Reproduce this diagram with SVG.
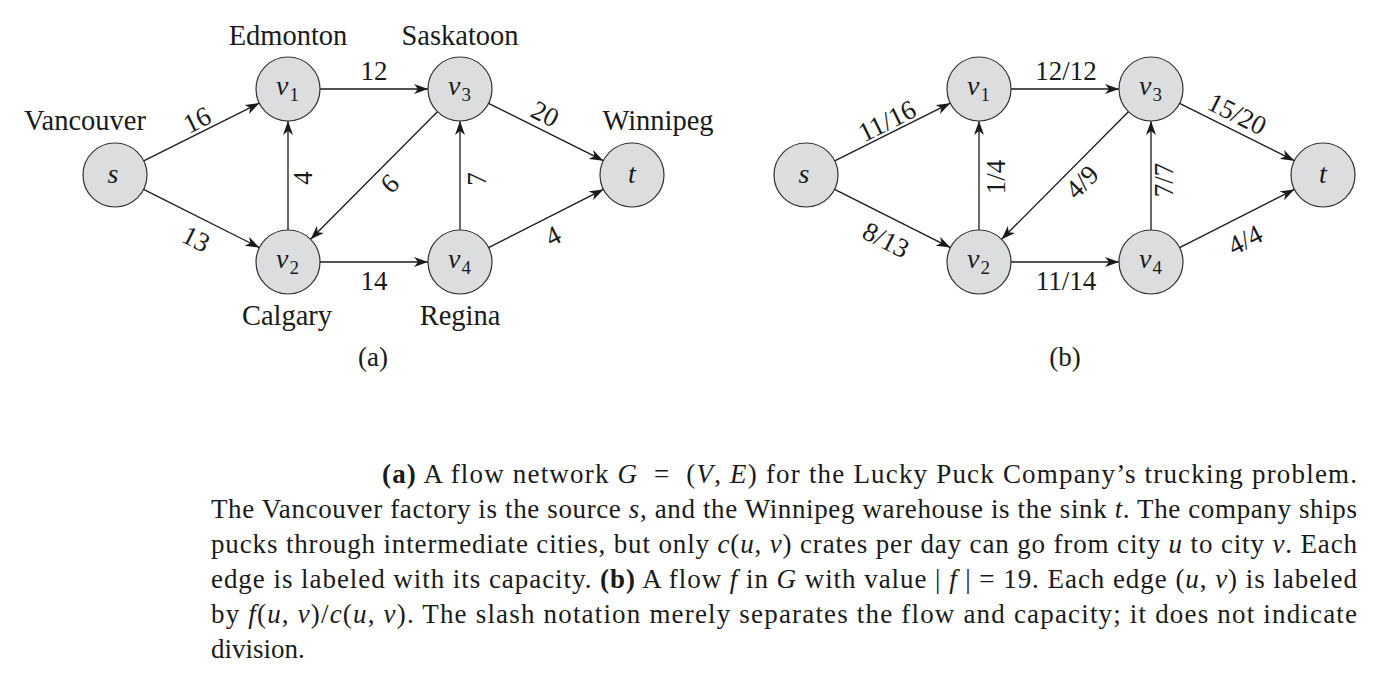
<svg xmlns="http://www.w3.org/2000/svg" width="1389" height="686" viewBox="0 0 1389 686">
<style>
text { font-family: "Liberation Serif", "Times New Roman", serif; fill: #1a1a1a; }
.node circle { fill: #dcdddf; stroke: #333; stroke-width: 1.2; }
.nv { font-size: 28px; font-style: italic; }
.sub { font-size: 19px; font-style: normal; }
.ctr { text-anchor: middle; }
.city { font-size: 28.5px; text-anchor: middle; }
.lbl { font-size: 27px; text-anchor: middle; }
.edge { stroke: #1a1a1a; stroke-width: 1.3; fill: none; marker-end: url(#arr); }
.cap { font-size: 27px; }
.i { font-style: italic; }
.b { font-weight: bold; }
</style>
<defs>
<marker id="arr" viewBox="0 0 14 10" refX="14" refY="5" markerWidth="14" markerHeight="10" markerUnits="userSpaceOnUse" orient="auto">
<path d="M0,0 L14,5 L0,10 L4,5 Z" fill="#1a1a1a"/>
</marker>
</defs>

<g id="connectors">
<!-- (a) -->
<line class="edge" x1="143.7" y1="160.8" x2="259.3" y2="103.2"/>
<line class="edge" x1="143.6" y1="189.4" x2="259.4" y2="247.6"/>
<line class="edge" x1="320" y1="89" x2="428" y2="89"/>
<line class="edge" x1="288" y1="230" x2="288" y2="121"/>
<line class="edge" x1="437.4" y1="111.7" x2="310.6" y2="239.3"/>
<line class="edge" x1="320" y1="262" x2="428" y2="262"/>
<line class="edge" x1="460" y1="230" x2="460" y2="121"/>
<line class="edge" x1="488.6" y1="103.3" x2="603.4" y2="160.7"/>
<line class="edge" x1="488.6" y1="247.6" x2="603.4" y2="189.4"/>
<!-- (b) -->
<g transform="translate(691,0)">
<line class="edge" x1="143.7" y1="160.8" x2="259.3" y2="103.2"/>
<line class="edge" x1="143.6" y1="189.4" x2="259.4" y2="247.6"/>
<line class="edge" x1="320" y1="89" x2="428" y2="89"/>
<line class="edge" x1="288" y1="230" x2="288" y2="121"/>
<line class="edge" x1="437.4" y1="111.7" x2="310.6" y2="239.3"/>
<line class="edge" x1="320" y1="262" x2="428" y2="262"/>
<line class="edge" x1="460" y1="230" x2="460" y2="121"/>
<line class="edge" x1="488.6" y1="103.3" x2="603.4" y2="160.7"/>
<line class="edge" x1="488.6" y1="247.6" x2="603.4" y2="189.4"/>
</g>
</g>

<g id="edge-labels-a">
<text class="lbl" transform="translate(197,120) rotate(-26.4)" y="9">16</text>
<text class="lbl" transform="translate(196,239) rotate(26.7)" y="9">13</text>
<text class="lbl" x="374" y="80">12</text>
<text class="lbl" x="374" y="290">14</text>
<text class="lbl" transform="translate(303,178) rotate(-90)" y="9">4</text>
<text class="lbl" transform="translate(390,184) rotate(135)" y="9">9</text>
<text class="lbl" transform="translate(477,179) rotate(-90)" y="9">7</text>
<text class="lbl" transform="translate(545,114) rotate(26.6)" y="9">20</text>
<text class="lbl" transform="translate(553,236) rotate(-26.9)" y="9">4</text>
</g>

<g id="edge-labels-b">
<text class="lbl" transform="translate(887,121) rotate(-26.4)" y="9">11/16</text>
<text class="lbl" transform="translate(886,240) rotate(26.7)" y="9">8/13</text>
<text class="lbl" x="1066" y="80">12/12</text>
<text class="lbl" x="1066" y="290">11/14</text>
<text class="lbl" transform="translate(996,177) rotate(-90)" y="9">1/4</text>
<text class="lbl" transform="translate(1082,182) rotate(-45)" y="9">4/9</text>
<text class="lbl" transform="translate(1164,180) rotate(-90)" y="9">7/7</text>
<text class="lbl" transform="translate(1237,114) rotate(26.6)" y="9">15/20</text>
<text class="lbl" transform="translate(1245,240) rotate(-26.9)" y="9">4/4</text>
</g>

<!-- nodes (a) -->
<g id="a-s" class="node"><circle cx="115" cy="175" r="32"/><text class="nv ctr" x="113" y="183">s</text></g>
<g id="a-v1" class="node"><circle cx="288" cy="89" r="32"/><text class="nv" x="276" y="95">v<tspan class="sub" dx="1" dy="6">1</tspan></text></g>
<g id="a-v2" class="node"><circle cx="288" cy="262" r="32"/><text class="nv" x="276" y="268">v<tspan class="sub" dx="1" dy="6">2</tspan></text></g>
<g id="a-v3" class="node"><circle cx="460" cy="89" r="32"/><text class="nv" x="448" y="95">v<tspan class="sub" dx="1" dy="6">3</tspan></text></g>
<g id="a-v4" class="node"><circle cx="460" cy="262" r="32"/><text class="nv" x="448" y="268">v<tspan class="sub" dx="1" dy="6">4</tspan></text></g>
<g id="a-t" class="node"><circle cx="632" cy="175" r="32"/><text class="nv ctr" x="632" y="183">t</text></g>

<!-- nodes (b) -->
<g id="b-s" class="node"><circle cx="806" cy="175" r="32"/><text class="nv ctr" x="804" y="183">s</text></g>
<g id="b-v1" class="node"><circle cx="979" cy="89" r="32"/><text class="nv" x="967" y="95">v<tspan class="sub" dx="1" dy="6">1</tspan></text></g>
<g id="b-v2" class="node"><circle cx="979" cy="262" r="32"/><text class="nv" x="967" y="268">v<tspan class="sub" dx="1" dy="6">2</tspan></text></g>
<g id="b-v3" class="node"><circle cx="1151" cy="89" r="32"/><text class="nv" x="1139" y="95">v<tspan class="sub" dx="1" dy="6">3</tspan></text></g>
<g id="b-v4" class="node"><circle cx="1151" cy="262" r="32"/><text class="nv" x="1139" y="268">v<tspan class="sub" dx="1" dy="6">4</tspan></text></g>
<g id="b-t" class="node"><circle cx="1323" cy="175" r="32"/><text class="nv ctr" x="1323" y="183">t</text></g>

<g id="city-labels">
<text class="city" x="288" y="45">Edmonton</text>
<text class="city" x="460" y="45">Saskatoon</text>
<text class="city" x="85" y="130">Vancouver</text>
<text class="city" x="658" y="130">Winnipeg</text>
<text class="city" x="287" y="325">Calgary</text>
<text class="city" x="460" y="325">Regina</text>
</g>

<g id="subfig-labels">
<text class="lbl" x="373" y="366">(a)</text>
<text class="lbl" x="1065" y="366">(b)</text>
</g>

<g id="caption" class="cap">
<text class="cap" x="382" y="483" textLength="975" lengthAdjust="spacing"><tspan class="b">(a)</tspan> A flow network <tspan class="i">G</tspan>&#160; =&#160; (<tspan class="i">V</tspan>, <tspan class="i">E</tspan>) for the Lucky Puck Company’s trucking problem.</text>
<text class="cap" x="211" y="518" textLength="1146" lengthAdjust="spacing">The Vancouver factory is the source <tspan class="i">s</tspan>, and the Winnipeg warehouse is the sink <tspan class="i">t</tspan>. The company ships</text>
<text class="cap" x="211" y="553" textLength="1146" lengthAdjust="spacing">pucks through intermediate cities, but only <tspan class="i">c</tspan>(<tspan class="i">u</tspan>, <tspan class="i">v</tspan>) crates per day can go from city <tspan class="i">u</tspan> to city <tspan class="i">v</tspan>. Each</text>
<text class="cap" x="211" y="588" textLength="1146" lengthAdjust="spacing">edge is labeled with its capacity. <tspan class="b">(b)</tspan> A flow <tspan class="i">f</tspan> in <tspan class="i">G</tspan> with value | <tspan class="i">f</tspan> | = 19. Each edge (<tspan class="i">u</tspan>, <tspan class="i">v</tspan>) is labeled</text>
<text class="cap" x="211" y="623" textLength="1146" lengthAdjust="spacing">by <tspan class="i">f</tspan>(<tspan class="i">u</tspan>, <tspan class="i">v</tspan>)/<tspan class="i">c</tspan>(<tspan class="i">u</tspan>, <tspan class="i">v</tspan>). The slash notation merely separates the flow and capacity; it does not indicate</text>
<text class="cap" x="211" y="658">division.</text>
</g>
</svg>
